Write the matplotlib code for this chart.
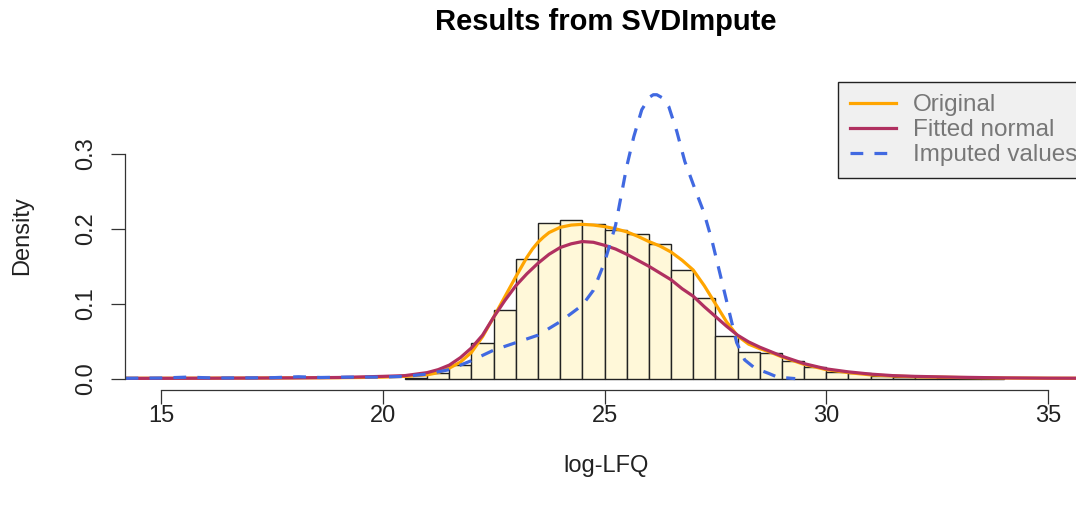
import numpy as np
import matplotlib
matplotlib.use('Agg')
import matplotlib.pyplot as plt
from matplotlib.lines import Line2D

plt.rcParams['font.family'] = ['Liberation Sans', 'DejaVu Sans']

# histogram (bin left edges, width 0.5) and density heights
bin_left = [20.5, 21.0, 21.5, 22.0, 22.5, 23.0, 23.5, 24.0, 24.5, 25.0, 25.5, 26.0, 26.5,
            27.0, 27.5, 28.0, 28.5, 29.0, 29.5, 30.0, 30.5, 31.0, 31.5, 32.0, 32.5, 33.0, 33.5]
bin_height = [0.001, 0.007, 0.018, 0.048, 0.092, 0.160, 0.208, 0.212, 0.207, 0.199, 0.193, 0.180, 0.145,
              0.108, 0.057, 0.036, 0.034, 0.024, 0.016, 0.009, 0.007, 0.004, 0.002, 0.0015, 0.001, 0.001, 0.0005]

# Original (kernel density)
orig_x = [14.2, 15, 16, 17, 18, 19, 19.5, 20, 20.5, 21, 21.25, 21.5, 21.75, 22, 22.25, 22.5, 22.75,
          23, 23.25, 23.375, 23.5, 23.625, 23.75, 24, 24.25, 24.5, 24.75, 25, 25.25, 25.5, 25.75,
          26, 26.25, 26.5, 26.75, 27, 27.25, 27.5, 27.75, 28, 28.25, 28.5, 28.75, 29, 29.5, 30,
          30.5, 31, 31.5, 32, 33, 34, 35, 35.9]
orig_y = [0.0005, 0.0005, 0.0006, 0.0007, 0.001, 0.0012, 0.0015, 0.002, 0.003, 0.005, 0.008, 0.014,
          0.022, 0.035, 0.056, 0.082, 0.109, 0.136, 0.162, 0.173, 0.182, 0.189, 0.195, 0.202, 0.205,
          0.206, 0.205, 0.203, 0.200, 0.196, 0.190, 0.183, 0.177, 0.169, 0.158, 0.145, 0.124, 0.100,
          0.076, 0.057, 0.046, 0.040, 0.035, 0.029, 0.019, 0.012, 0.008, 0.005, 0.0035, 0.0025,
          0.0015, 0.0008, 0.0005, 0.0004]

# Fitted normal
norm_x = [14.2, 16, 18, 19, 20, 20.5, 21, 21.25, 21.5, 21.75, 22, 22.25, 22.5, 22.75, 23, 23.25,
          23.5, 23.75, 24, 24.25, 24.5, 24.75, 25, 25.25, 25.5, 25.75, 26, 26.25, 26.5, 26.75, 27,
          27.25, 27.5, 27.75, 28, 28.25, 28.5, 28.75, 29, 29.5, 30, 30.5, 31, 31.5, 32, 33, 34, 35, 35.9]
norm_y = [0.0003, 0.0005, 0.001, 0.0015, 0.003, 0.004, 0.008, 0.012, 0.018, 0.028, 0.041, 0.058,
          0.082, 0.104, 0.124, 0.140, 0.154, 0.166, 0.175, 0.180, 0.183, 0.182, 0.178, 0.173, 0.166,
          0.158, 0.150, 0.141, 0.132, 0.120, 0.110, 0.096, 0.083, 0.070, 0.058, 0.049, 0.042, 0.036,
          0.030, 0.020, 0.013, 0.009, 0.006, 0.004, 0.003, 0.0018, 0.001, 0.0006, 0.0005]

# Imputed values (kernel density)
imp_x = [14.2, 15, 15.6, 16.2, 17, 17.5, 18.1, 18.6, 19.2, 20, 20.5, 21, 21.5, 22, 22.5, 23, 23.5,
         24, 24.5, 24.75, 25, 25.25, 25.5, 25.66, 25.84, 26.02, 26.1, 26.18, 26.3, 26.45, 26.63,
         26.81, 27.04, 27.24, 27.42, 27.6, 27.8, 27.98, 28.16, 28.39, 28.7, 28.9, 29.3]
imp_y = [0.0005, 0.0008, 0.002, 0.0008, 0.001, 0.0012, 0.0025, 0.0015, 0.002, 0.002, 0.003, 0.006,
         0.012, 0.024, 0.038, 0.048, 0.058, 0.076, 0.098, 0.118, 0.155, 0.205, 0.283, 0.323, 0.359,
         0.376, 0.379, 0.379, 0.375, 0.363, 0.330, 0.290, 0.253, 0.222, 0.185, 0.141, 0.092, 0.048,
         0.025, 0.014, 0.007, 0.002, 0.0]

W, H = 1076, 509
fig = plt.figure(figsize=(W/100, H/100), dpi=100)
ax = fig.add_axes([125/W, 1-390/H, (1087-125)/W, (390-83.5)/H])

ax.bar(bin_left, bin_height, width=0.5, align='edge', color='#fff8d9', edgecolor='#222222', linewidth=1.0)
ax.plot(orig_x, orig_y, color='orange', lw=2.3)
ax.plot(norm_x, norm_y, color='#B03060', lw=2.3)
ax.plot(imp_x, imp_y, color='royalblue', lw=2.3, dashes=(4, 3.5))

ax.set_xlim(14.188, 35.879)
ax.set_ylim(-0.0152, 0.394)

for s in ['top', 'right']:
    ax.spines[s].set_visible(False)
ax.spines['left'].set_bounds(0, 0.3)
ax.spines['bottom'].set_bounds(15, 35)
for s in ['left', 'bottom']:
    ax.spines[s].set_color('#333333')
    ax.spines[s].set_linewidth(0.9)

ax.set_xticks([15, 20, 25, 30, 35])
ax.set_yticks([0, 0.1, 0.2, 0.3])
ax.set_yticklabels(['0.0', '0.1', '0.2', '0.3'], rotation=90, va='center')
ax.tick_params(length=10, width=0.9, color='#333333', labelsize=17, labelcolor='#222222')
ax.tick_params(axis='x', pad=1)
ax.tick_params(axis='y', pad=10)

ax.set_xlabel('log-LFQ', fontsize=17, color='#222222')
ax.set_ylabel('Density', fontsize=17, color='#222222')
ax.xaxis.set_label_coords((606-125)/(1087-125), -(466-390)/(390-83.5))
ax.yaxis.set_label_coords(-(125-22)/(1087-125), (390-236)/(390-83.5))
ax.xaxis.label.set_va('center')
ax.yaxis.label.set_va('center')

fig.text(606/W, 1-22/H, 'Results from SVDImpute', ha='center', va='center',
         fontsize=21, fontweight='bold')

handles = [Line2D([], [], color='orange', lw=2.3),
           Line2D([], [], color='#B03060', lw=2.3),
           Line2D([], [], color='royalblue', lw=2.3, dashes=(4, 3.5))]
leg = ax.legend(handles, ['Original', 'Fitted normal', 'Imputed values'],
                loc='upper left', bbox_to_anchor=(838/W, 1-82/H), bbox_transform=fig.transFigure,
                fontsize=17.5, labelcolor='#777777', fancybox=False, edgecolor='#222222',
                facecolor='#f0f0f0', framealpha=1, handlelength=1.9, handletextpad=0.7,
                borderpad=0.5, labelspacing=0.12, borderaxespad=0)
leg.get_frame().set_linewidth(1.0)

fig.savefig('out.png', dpi=100)
